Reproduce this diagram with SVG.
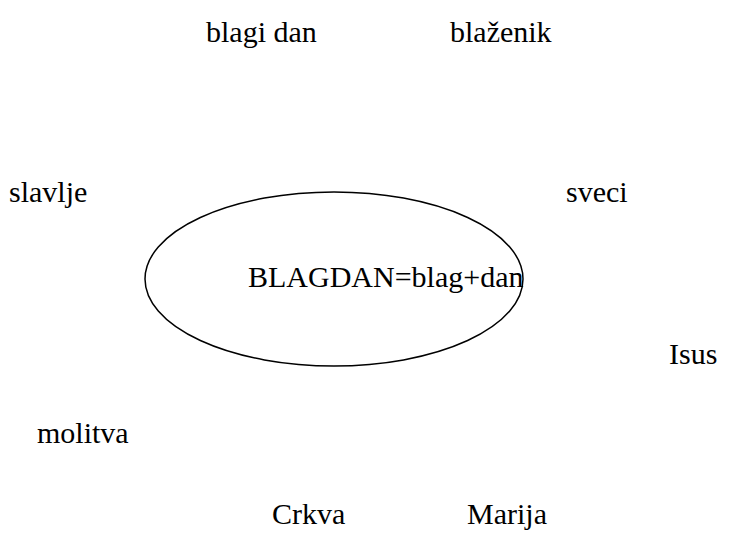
<svg xmlns="http://www.w3.org/2000/svg" width="735" height="537" viewBox="0 0 735 537">
<rect width="735" height="537" fill="#fff"/>
<g id="connectors"></g>
<g id="center">
<ellipse cx="334" cy="279" rx="189" ry="87" fill="none" stroke="#000" stroke-width="1.5"/>
<text x="248" y="287" font-size="30" font-family="'Liberation Serif', 'Times New Roman', serif">BLAGDAN=blag+dan</text>
</g>
<g id="blagi-dan"><text x="206" y="42" font-size="30" font-family="'Liberation Serif', 'Times New Roman', serif">blagi dan</text></g>
<g id="blazenik"><text x="450" y="42" font-size="30" font-family="'Liberation Serif', 'Times New Roman', serif">bla&#382;enik</text></g>
<g id="slavlje"><text x="9" y="202" font-size="30" font-family="'Liberation Serif', 'Times New Roman', serif">slavlje</text></g>
<g id="sveci"><text x="566" y="202" font-size="30" font-family="'Liberation Serif', 'Times New Roman', serif">sveci</text></g>
<g id="isus"><text x="669" y="364" font-size="30" font-family="'Liberation Serif', 'Times New Roman', serif">Isus</text></g>
<g id="molitva"><text x="37" y="443" font-size="30" font-family="'Liberation Serif', 'Times New Roman', serif">molitva</text></g>
<g id="crkva"><text x="272" y="524" font-size="30" font-family="'Liberation Serif', 'Times New Roman', serif">Crkva</text></g>
<g id="marija"><text x="467" y="524" font-size="30" font-family="'Liberation Serif', 'Times New Roman', serif">Marija</text></g>
</svg>
